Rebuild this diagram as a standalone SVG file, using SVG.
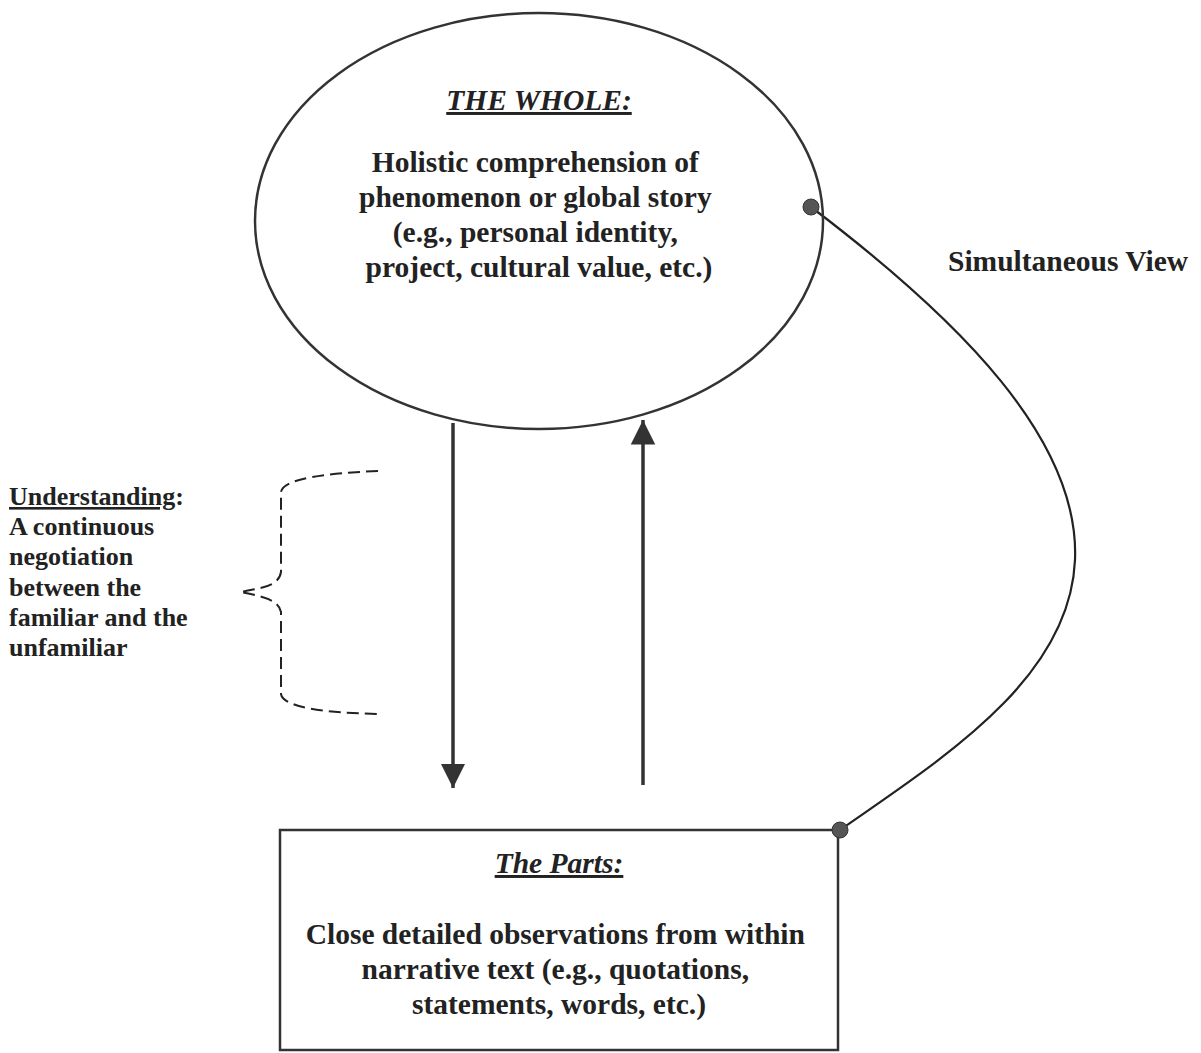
<svg xmlns="http://www.w3.org/2000/svg" width="1201" height="1053" viewBox="0 0 1201 1053">
  <style>
    .t { font-family: "Liberation Serif", "Times New Roman", serif; font-weight: bold; fill: #222; }
    .big { font-size: 29.5px; }
    .mid { font-size: 26px; }
    .it { font-style: italic; text-decoration: underline; }
    .shape { fill: none; stroke: #333; stroke-width: 2.5; }
    .conn { fill: none; stroke: #222; stroke-width: 2.2; }
    .arr { fill: none; stroke: #333; stroke-width: 3.5; }
    .dash { fill: none; stroke: #222; stroke-width: 2; stroke-dasharray: 12 6; }
    .dot { fill: #555; stroke: #333; stroke-width: 1; }
  </style>
  <defs>
    <marker id="ah" viewBox="0 0 10 10" refX="10" refY="5" markerWidth="7" markerHeight="8" markerUnits="strokeWidth" orient="auto">
      <path d="M0,0 L10,5 L0,10 Z" fill="#333"/>
    </marker>
  </defs>
  <rect width="1201" height="1053" fill="#fff"/>

  <g id="connectors">
    <path class="conn" d="M811,207 C960,320 1080,440 1075,560 C1070,680 940,760 840,830"/>
    <line class="arr" x1="453" y1="423" x2="453" y2="788" marker-end="url(#ah)"/>
    <line class="arr" x1="643" y1="785" x2="643" y2="420" marker-end="url(#ah)"/>
    <path class="dash" d="M378,471 C330,473 283,478 281,492 L281,572 C279,586 262,588 240,592 C262,596 279,600 281,612 L281,694 C283,708 330,713 378,714"/>
  </g>

  <g id="whole">
    <ellipse class="shape" cx="539" cy="221" rx="284" ry="208"/>
    <text class="t big it" x="539" y="110" text-anchor="middle">THE WHOLE:</text>
    <text class="t big" text-anchor="middle">
      <tspan x="539" y="172">Holistic comprehension of</tspan>
      <tspan x="539" y="207">phenomenon or global story</tspan>
      <tspan x="539" y="242">(e.g., personal identity,</tspan>
      <tspan x="539" y="277">project, cultural value, etc.)</tspan>
    </text>
  </g>

  <g id="parts">
    <rect class="shape" x="280" y="830" width="558" height="220"/>
    <text class="t big it" x="559" y="873" text-anchor="middle">The Parts:</text>
    <text class="t big" text-anchor="middle">
      <tspan x="559" y="944">Close detailed observations from within</tspan>
      <tspan x="559" y="979">narrative text (e.g., quotations,</tspan>
      <tspan x="559" y="1014">statements, words, etc.)</tspan>
    </text>
  </g>

  <g id="dots">
    <circle class="dot" cx="811" cy="207" r="8"/>
    <circle class="dot" cx="840" cy="830" r="8"/>
  </g>

  <g id="simultaneous">
    <text class="t" x="948" y="271" style="font-size:29.5px">Simultaneous View</text>
  </g>

  <g id="understanding">
    <text class="t mid">
      <tspan x="9" y="505"><tspan text-decoration="underline">Understanding</tspan>:</tspan>
      <tspan x="9" y="535">A continuous</tspan>
      <tspan x="9" y="565">negotiation</tspan>
      <tspan x="9" y="596">between the</tspan>
      <tspan x="9" y="626">familiar and the</tspan>
      <tspan x="9" y="656">unfamiliar</tspan>
    </text>
  </g>
</svg>
